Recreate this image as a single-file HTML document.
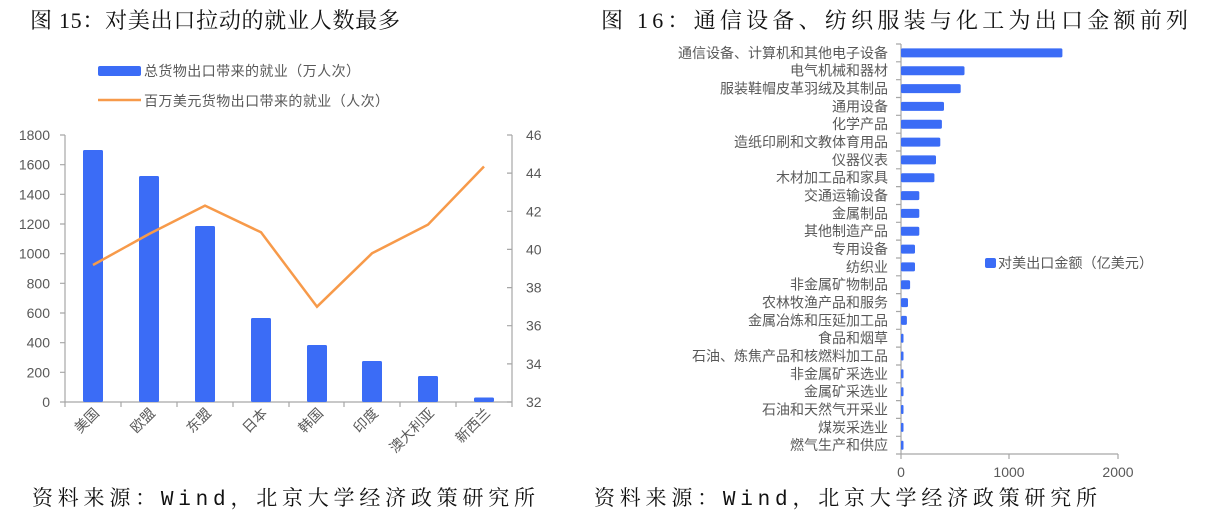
<!DOCTYPE html>
<html><head><meta charset="utf-8"><style>
html,body{margin:0;padding:0;background:#fff;}
svg{display:block;}
.t{font-family:"Liberation Serif","Noto Serif CJK SC",serif;font-size:22px;fill:#111;}
.f{font-family:"Liberation Mono","Noto Serif CJK SC",serif;font-size:21px;fill:#111;}
.a{font-family:"Liberation Sans","Noto Sans CJK SC",sans-serif;font-size:14px;fill:#595959;}
.c{font-family:"Liberation Sans","Noto Sans CJK SC",sans-serif;font-size:14px;fill:#595959;}
</style></head><body>
<svg width="1210" height="531" viewBox="0 0 1210 531" xmlns="http://www.w3.org/2000/svg">
<rect width="1210" height="531" fill="#fff"/>
<text class="t" x="30" y="28" textLength="370">图 15：对美出口拉动的就业人数最多</text>
<text class="t" x="601" y="28" textLength="587">图 16：通信设备、纺织服装与化工为出口金额前列</text>
<text class="f" x="32" y="505" textLength="503">资料来源：Wind，北京大学经济政策研究所</text>
<text class="f" x="594" y="505" textLength="503">资料来源：Wind，北京大学经济政策研究所</text>

<rect x="98" y="66" width="43" height="10" rx="2" fill="#3b6cf6"/>
<text class="c" x="144" y="76" textLength="216">总货物出口带来的就业（万人次）</text>
<line x1="98" y1="100" x2="141" y2="100" stroke="#f79a4a" stroke-width="2.5"/>
<text class="c" x="144" y="106" textLength="245">百万美元货物出口带来的就业（人次）</text>

<g stroke="#a6a6a6" stroke-width="1.2" fill="none">
<line x1="65" y1="135" x2="65" y2="402"/>
<line x1="512" y1="135" x2="512" y2="402"/>
<line x1="65" y1="402" x2="512" y2="402"/>
<path d="M60 135H65M60 164.7H65M60 194.3H65M60 224H65M60 253.7H65M60 283.3H65M60 313H65M60 342.7H65M60 372.3H65M60 402H65"/>
<path d="M507 135H512M507 173.1H512M507 211.3H512M507 249.4H512M507 287.6H512M507 325.7H512M507 363.9H512M507 402H512"/>
<path d="M65 402V407M121 402V407M177 402V407M233 402V407M289 402V407M344 402V407M400 402V407M456 402V407M512 402V407"/>
</g>
<g class="a" text-anchor="end">
<text x="50" y="140">1800</text><text x="50" y="169.7">1600</text><text x="50" y="199.3">1400</text><text x="50" y="229">1200</text><text x="50" y="258.7">1000</text><text x="50" y="288.3">800</text><text x="50" y="318">600</text><text x="50" y="347.7">400</text><text x="50" y="377.3">200</text><text x="50" y="407">0</text>
</g>
<g class="a">
<text x="526" y="140">46</text><text x="526" y="178.1">44</text><text x="526" y="216.3">42</text><text x="526" y="254.4">40</text><text x="526" y="292.6">38</text><text x="526" y="330.7">36</text><text x="526" y="368.9">34</text><text x="526" y="407">32</text>
</g>
<g fill="#3b6cf6">
<rect x="83" y="150" width="20" height="252" rx="1.5"/>
<rect x="139" y="176" width="20" height="226" rx="1.5"/>
<rect x="195" y="226" width="20" height="176" rx="1.5"/>
<rect x="251" y="318" width="20" height="84" rx="1.5"/>
<rect x="307" y="345" width="20" height="57" rx="1.5"/>
<rect x="362" y="361" width="20" height="41" rx="1.5"/>
<rect x="418" y="376" width="20" height="26" rx="1.5"/>
<rect x="474" y="397.5" width="20" height="4.5" rx="1.5"/>
</g>
<polyline points="93,265 149,234 205,205.6 261,232.3 317,306.7 372,253.3 428,224.6 484,166.5" fill="none" stroke="#f79a4a" stroke-width="2.5"/>
<g class="a" text-anchor="end">
<text transform="translate(100,414) rotate(-45)">美国</text>
<text transform="translate(156,414) rotate(-45)">欧盟</text>
<text transform="translate(212,414) rotate(-45)">东盟</text>
<text transform="translate(268,414) rotate(-45)">日本</text>
<text transform="translate(324,414) rotate(-45)">韩国</text>
<text transform="translate(379,414) rotate(-45)">印度</text>
<text transform="translate(435,414) rotate(-45)">澳大利亚</text>
<text transform="translate(491,414) rotate(-45)">新西兰</text>
</g>

<g stroke="#a6a6a6" stroke-width="1.2" fill="none">
<line x1="901" y1="44" x2="901" y2="454"/>
<line x1="901" y1="454" x2="1118" y2="454"/>
<path d="M901 454V459M1009 454V459M1118 454V459"/>
<path d="M896 44H901M896 61.8H901M896 79.7H901M896 97.5H901M896 115.3H901M896 133.2H901M896 151H901M896 168.8H901M896 186.6H901M896 204.5H901M896 222.3H901M896 240.1H901M896 258H901M896 275.8H901M896 293.6H901M896 311.5H901M896 329.3H901M896 347.1H901M896 365H901M896 382.8H901M896 400.6H901M896 418.4H901M896 436.3H901M896 454H901"/>
</g>
<g class="a" text-anchor="middle" font-size="13"><text x="901" y="477">0</text><text x="1009" y="477">1000</text><text x="1118" y="477">2000</text></g>
<g fill="#3b6cf6">
<rect x="901" y="48.4" width="161.4" height="9" rx="1.5"/>
<rect x="901" y="66.2" width="63.5" height="9" rx="1.5"/>
<rect x="901" y="84.1" width="59.7" height="9" rx="1.5"/>
<rect x="901" y="101.9" width="43" height="9" rx="1.5"/>
<rect x="901" y="119.7" width="40.9" height="9" rx="1.5"/>
<rect x="901" y="137.6" width="39.3" height="9" rx="1.5"/>
<rect x="901" y="155.4" width="35" height="9" rx="1.5"/>
<rect x="901" y="173.2" width="33.4" height="9" rx="1.5"/>
<rect x="901" y="191.1" width="18.3" height="9" rx="1.5"/>
<rect x="901" y="208.9" width="18.3" height="9" rx="1.5"/>
<rect x="901" y="226.7" width="18.3" height="9" rx="1.5"/>
<rect x="901" y="244.6" width="14" height="9" rx="1.5"/>
<rect x="901" y="262.4" width="14" height="9" rx="1.5"/>
<rect x="901" y="280.2" width="9.1" height="9" rx="1.5"/>
<rect x="901" y="298.1" width="7" height="9" rx="1.5"/>
<rect x="901" y="315.9" width="5.9" height="9" rx="1.5"/>
<rect x="901" y="333.7" width="2.5" height="9" rx="1"/>
<rect x="901" y="351.5" width="2.5" height="9" rx="1"/>
<rect x="901" y="369.4" width="2.5" height="9" rx="1"/>
<rect x="901" y="387.2" width="2.5" height="9" rx="1"/>
<rect x="901" y="405" width="2.5" height="9" rx="1"/>
<rect x="901" y="422.9" width="2.5" height="9" rx="1"/>
<rect x="901" y="440.7" width="2.5" height="9" rx="1"/>
</g>
<g class="c" text-anchor="end">
<text x="888" y="57.8">通信设备、计算机和其他电子设备</text>
<text x="888" y="75.6">电气机械和器材</text>
<text x="888" y="93.5">服装鞋帽皮革羽绒及其制品</text>
<text x="888" y="111.3">通用设备</text>
<text x="888" y="129.1">化学产品</text>
<text x="888" y="147">造纸印刷和文教体育用品</text>
<text x="888" y="164.8">仪器仪表</text>
<text x="888" y="182.6">木材加工品和家具</text>
<text x="888" y="200.5">交通运输设备</text>
<text x="888" y="218.3">金属制品</text>
<text x="888" y="236.1">其他制造产品</text>
<text x="888" y="254">专用设备</text>
<text x="888" y="271.8">纺织业</text>
<text x="888" y="289.6">非金属矿物制品</text>
<text x="888" y="307.5">农林牧渔产品和服务</text>
<text x="888" y="325.3">金属冶炼和压延加工品</text>
<text x="888" y="343.1">食品和烟草</text>
<text x="888" y="360.9">石油、炼焦产品和核燃料加工品</text>
<text x="888" y="378.8">非金属矿采选业</text>
<text x="888" y="396.6">金属矿采选业</text>
<text x="888" y="414.4">石油和天然气开采业</text>
<text x="888" y="432.3">煤炭采选业</text>
<text x="888" y="450.1">燃气生产和供应</text>
</g>
<rect x="985" y="258" width="11" height="10" rx="2" fill="#3b6cf6"/>
<text class="c" x="998" y="268" textLength="155">对美出口金额（亿美元）</text>
</svg>
</body></html>
